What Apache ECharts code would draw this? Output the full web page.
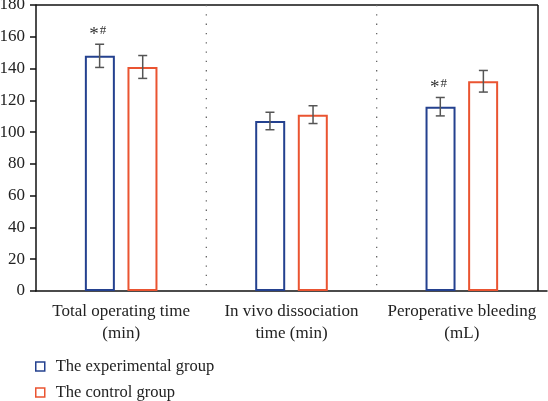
<!DOCTYPE html>
<html><head><meta charset="utf-8">
<script src="https://cdn.jsdelivr.net/npm/echarts@6/dist/echarts.min.js"></script>
<style>html,body{margin:0;padding:0;background:#fff}#c{width:548px;height:401px}</style>
</head><body><div id="c"></div>
<script>
var categories = ['Total operating time\n(min)', 'In vivo dissociation\ntime (min)', 'Peroperative bleeding\n(mL)'];
var seriesNames = ['The experimental group', 'The control group'];
var expMean = [148, 107, 116];
var expSD = [7.3, 5.5, 5.8];
var ctlMean = [141, 111, 132];
var ctlSD = [7.2, 5.6, 6.8];
var expMarks = ['*#', '', '*#'];
var yTicks = {min: 0, max: 180, interval: 20};

var BLUE = '#24418f', RED = '#ea5431', ERR = '#555555';
var FONT = '"Liberation Serif", "DejaVu Serif", serif';

var chart = echarts.init(document.getElementById('c'), null, {renderer: 'canvas'});

function errSeries(name, means, sds, offset, marks) {
  var data = means.map(function (m, i) { return [i, m, sds[i], marks ? marks[i] : '']; });
  return {
    type: 'custom', name: name + '_err', silent: true, z: 5,
    data: data,
    renderItem: function (params, api) {
      var i = api.value(0), m = api.value(1), sd = api.value(2);
      var band = api.size([1, 0])[0];
      var c = api.coord([i, m]);
      var x = c[0] + offset * band;
      var hi = api.coord([i, m + sd])[1];
      var lo = api.coord([i, m - sd])[1];
      var st = {stroke: ERR, lineWidth: 1.5};
      var cw = 4.5;
      var children = [
        {type: 'line', shape: {x1: x, y1: hi, x2: x, y2: lo}, style: st},
        {type: 'line', shape: {x1: x - cw, y1: hi, x2: x + cw, y2: hi}, style: st},
        {type: 'line', shape: {x1: x - cw, y1: lo, x2: x + cw, y2: lo}, style: st}
      ];
      var mk = data[params.dataIndex][3];
      if (mk) {
        children.push({type: 'text', style: {text: '*', x: x - 5.5, y: hi - 9, textAlign: 'center', textVerticalAlign: 'middle', font: '19px ' + FONT, fill: '#333'}});
        children.push({type: 'text', style: {text: '#', x: x + 3.5, y: hi - 14, textAlign: 'center', textVerticalAlign: 'middle', font: '13px ' + FONT, fill: '#333'}});
      }
      if (offset < 0 && i < categories.length - 1) {
        var dx = c[0] + band / 2;
        var top = api.coord([i, yTicks.max])[1];
        var bot = api.coord([i, yTicks.min])[1];
        children.push({type: 'line', shape: {x1: dx, y1: top, x2: dx, y2: bot}, style: {stroke: '#666', lineWidth: 1.3, lineDash: [1.3, 8]}});
      }
      return {type: 'group', children: children};
    }
  };
}

function legendFor(idx, top) {
  return {
    data: [seriesNames[idx]], left: 30, top: top, itemWidth: 9, itemHeight: 9,
    icon: 'rect', itemStyle: {borderWidth: 1.5},
    textStyle: {fontFamily: FONT, fontSize: 16.5, color: '#222', padding: [0, 0, 0, 6]}
  };
}

var option = {
  animation: false,
  grid: {left: 36, right: 1, top: 5, bottom: 110, containLabel: false, outerBoundsMode: 'none'},
  legend: [legendFor(0, 353), legendFor(1, 379)],
  xAxis: {
    type: 'category', data: categories,
    axisLine: {lineStyle: {color: '#111', width: 1.5}},
    axisTick: {alignWithLabel: true, length: 5, lineStyle: {color: '#111', width: 1.5}},
    axisLabel: {interval: 0, fontFamily: FONT, fontSize: 17, color: '#222', lineHeight: 22, margin: 10}
  },
  yAxis: {
    type: 'value', min: yTicks.min, max: yTicks.max, interval: yTicks.interval,
    axisLine: {show: true, lineStyle: {color: '#111', width: 1.5}},
    axisTick: {show: true, length: 6, lineStyle: {color: '#111', width: 1.5}},
    axisLabel: {fontFamily: FONT, fontSize: 17, color: '#222', margin: 11},
    splitLine: {show: false}
  },
  graphic: [
    {type: 'line', shape: {x1: 36, y1: 5, x2: 538, y2: 5}, style: {stroke: '#111', lineWidth: 1.5}},
    {type: 'line', shape: {x1: 538, y1: 5, x2: 538, y2: 291}, style: {stroke: '#111', lineWidth: 1.5}}
  ],
  series: [
    {name: seriesNames[0], type: 'bar', data: expMean, barWidth: 30, barGap: '42%',
      itemStyle: {color: '#fff', borderColor: BLUE, borderWidth: 2}},
    {name: seriesNames[1], type: 'bar', data: ctlMean, barWidth: 30, barGap: '42%',
      itemStyle: {color: '#fff', borderColor: RED, borderWidth: 2}},
    errSeries('exp', expMean, expSD, -21.5 / 170, expMarks),
    errSeries('ctl', ctlMean, ctlSD, 21.5 / 170, null)
  ]
};
chart.setOption(option);
</script></body></html>
